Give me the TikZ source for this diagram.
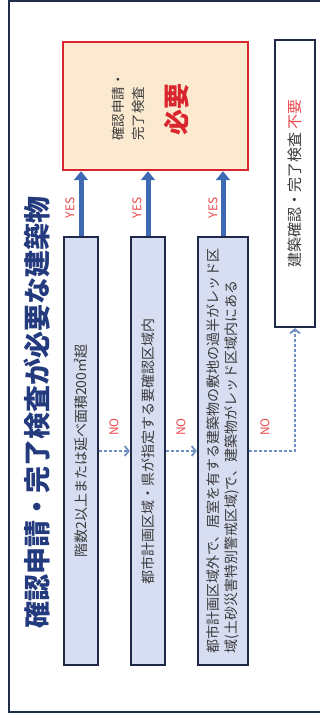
\documentclass[tikz,border=0pt]{standalone}
\usepackage{fontspec}
\setmainfont{Noto Sans CJK JP}
\usetikzlibrary{arrows.meta}

\definecolor{frameline}{HTML}{1F2C4A}
\definecolor{boxline}{HTML}{1E2A47}
\definecolor{condfill}{HTML}{D8DEF2}
\definecolor{reqfill}{HTML}{FBEACF}
\definecolor{reqline}{HTML}{D9262E}
\definecolor{titleblue}{HTML}{233A7E}
\definecolor{labelred}{HTML}{E8484C}
\definecolor{yesblue}{HTML}{3D6AB3}
\definecolor{noblue}{HTML}{6E8FC4}
\definecolor{textgray}{HTML}{3A3A3A}

\begin{document}
\begin{tikzpicture}[x=1pt,y=-1pt,
    cond/.style={draw=boxline, line width=2.4pt, fill=condfill, inner sep=0pt,
                 minimum height=428pt},
    condtext/.style={rotate=90, inner sep=0pt, text=textgray, align=left,
                     font=\fontsize{14}{18}\selectfont},
    yesarrow/.style={draw=yesblue, line width=5pt, -{Triangle[width=14pt,length=9pt]}},
    noarrow/.style={draw=noblue, line width=2.4pt, dash pattern=on 2.4pt off 2.6pt,
                    -{Straight Barb[length=4pt,width=10pt,line width=1.8pt]}},
    yesno/.style={rotate=90, inner sep=0pt, text=labelred,
                  font=\fontsize{12}{12}\selectfont}]
    \clip (0,0) rectangle (320,718);
    \path[draw=frameline, line width=2pt] (9,1) rectangle (340,712);

    \node[rotate=90, inner sep=0pt, text=titleblue,
          font=\fontsize{27}{27}\selectfont\bfseries] (title) at (37,412)
          {確認申請・完了検査が必要な建築物};

    % result boxes
    \node[draw=reqline, line width=2.4pt, fill=reqfill, inner sep=0pt,
          minimum width=185pt, minimum height=128pt] (req) at (155.5,106) {};
    \node[draw=boxline, line width=2.4pt, fill=white, inner sep=0pt,
          minimum width=40pt, minimum height=287pt] (none) at (295,183.5) {};

    \node[condtext, anchor=west, font=\fontsize{13.5}{20}\selectfont]
          (req-a) at (128,141) {確認申請・\\完了検査};
    \node[rotate=90, inner sep=0pt, text=reqline,
          font=\fontsize{26}{26}\selectfont\bfseries] (req-b) at (177,109) {必要};
    \node[condtext, font=\fontsize{15}{15}\selectfont] (none-a) at (none)
          {建築確認・完了検査 \textcolor{labelred}{不要}};

    % conditions
    \foreach \n/\x/\w in {c1/81/34, c2/148/34, c3/223/50}
        \node[cond, minimum width=\w pt] (\n) at (\x,451) {};

    \node[condtext] (c1-a) at (c1) {階数2以上または延べ面積200㎡超};
    \node[condtext] (c2-a) at (c2) {都市計画区域・県が指定する要確認区域内};
    \node[condtext] (c3-a) at (c3)
          {都市計画区域外で、居室を有する建築物の敷地の過半がレッド区\\
           域(土砂災害特別警戒区域)で、建築物がレッド区域内にある};

    \foreach \n/\l in {c1/70, c2/137, c3/213} {
        \draw[yesarrow] (\n.north) -- (\n.north |- req.south);
        \node[yesno] (\n-yes) at (\l,208) {YES};
    }

    \draw[noarrow] (c1.east) -- (c2.west);
    \draw[noarrow] (c2.east) -- (c3.west);
    \draw[noarrow] (c3.east) -| (none.south);
    \foreach \n/\l in {c1/114, c2/181, c3/265}
        \node[yesno] (\n-no) at (\l,427) {NO};

\end{tikzpicture}
\end{document}
